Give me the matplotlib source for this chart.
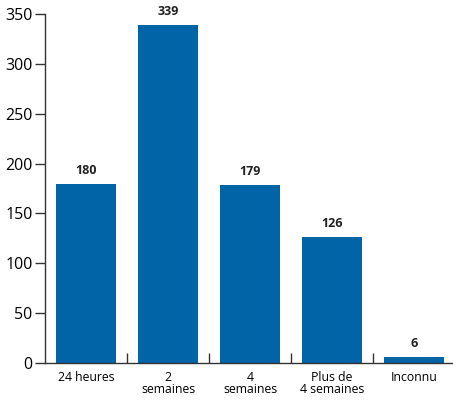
import matplotlib
matplotlib.use("Agg")
import matplotlib.pyplot as plt
import numpy as np

categories = ["24 heures", "2\nsemaines", "4\nsemaines", "Plus de\n4 semaines", "Inconnu"]
values = [180, 339, 179, 126, 6]
yticks = [0, 50, 100, 150, 200, 250, 300, 350]

plt.rcParams['font.family'] = ['Open Sans', 'DejaVu Sans']

W, H = 453, 404
fig = plt.figure(figsize=(W/100, H/100), dpi=100)
left, right = 45/W, 1.0
bottom, top = (H-363)/H, (H-14)/H
ax = fig.add_axes([left, bottom, right-left, top-bottom])

x = np.arange(len(categories))
bars = ax.bar(x, values, width=60/82, color="#0064a7")
for xi, v in zip(x, values):
    ax.text(xi, v + 7, str(v), ha="center", va="bottom", fontsize=9, fontweight="bold", color="#222222")

ax.set_xlim(-0.5, -0.5 + (W-45)/82)
ax.set_ylim(0, 350)
ax.set_yticks(yticks)
ax.set_yticklabels([str(t) for t in yticks], fontsize=11.5)
ax.tick_params(axis="y", direction="out", length=7, width=1, color="#333333", pad=2)

ax.set_xticks(x)
ax.set_xticklabels(categories, fontsize=8.8, linespacing=0.85, va="top")
ax.tick_params(axis="x", which="major", length=0, pad=6)
ax.set_xticks(x[:-1] + 0.5, minor=True)
ax.tick_params(axis="x", which="minor", direction="in", length=7, width=1, color="#333333")

for s in ["top", "right"]:
    ax.spines[s].set_visible(False)
for s in ["left", "bottom"]:
    ax.spines[s].set_color("#333333")
    ax.spines[s].set_linewidth(1)

fig.savefig("out.png", dpi=100)
